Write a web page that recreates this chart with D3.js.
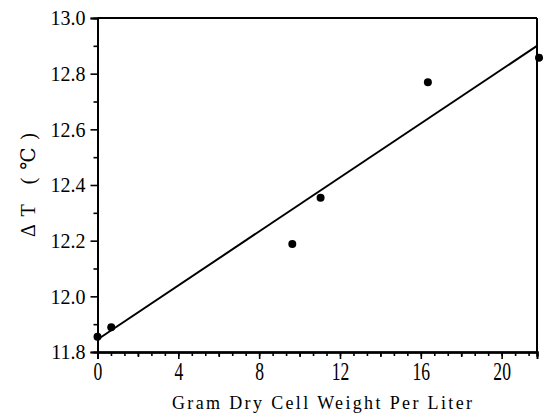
<!DOCTYPE html>
<html>
<head>
<meta charset="utf-8">
<script src="https://cdn.jsdelivr.net/npm/d3@7"></script>
<style>
  body { margin: 0; background: #fff; }
  text { font-family: "Liberation Serif", "DejaVu Serif", serif; fill: #000; }
</style>
</head>
<body>
<script>
// measured points (grams dry cell weight per liter vs delta T)
var cellWeight = [0, 0.68, 9.64, 11.04, 16.35, 21.85];
var deltaT = [11.855, 11.889, 12.188, 12.354, 12.769, 12.857];

// fitted straight line, two ends
var fitX = [0, 21.75];
var fitY = [11.845, 12.90];

var xTicks = [0, 4, 8, 12, 16, 20];
var yTicks = [11.8, 12.0, 12.2, 12.4, 12.6, 12.8, 13.0];

var width = 543, height = 414;
var plotLeft = 97.5, plotRight = 537, plotTop = 18, plotBottom = 352;

var svg = d3.select("body").append("svg")
    .attr("width", width)
    .attr("height", height);

var x = d3.scaleLinear().domain([0, 21.75]).range([plotLeft, plotRight]);
var y = d3.scaleLinear().domain([11.8, 13.0]).range([plotBottom, plotTop]);

// frame on top and right
svg.append("line")
    .attr("x1", plotLeft).attr("x2", plotRight)
    .attr("y1", plotTop).attr("y2", plotTop)
    .attr("stroke", "#000").attr("stroke-width", 2);
svg.append("line")
    .attr("x1", plotRight).attr("x2", plotRight)
    .attr("y1", plotTop).attr("y2", plotBottom)
    .attr("stroke", "#000").attr("stroke-width", 2);

// minor ticks first
var xMinor = d3.range(0, 21.7, 2 / 3);
svg.append("g")
    .attr("transform", "translate(0," + plotBottom + ")")
    .call(d3.axisBottom(x).tickValues(xMinor).tickSize(4).tickFormat(""));
svg.append("g")
    .attr("transform", "translate(0," + plotBottom + ")")
    .call(d3.axisBottom(x).tickValues([2, 6, 10, 14, 18]).tickSize(5).tickFormat(""));

var yMinor = d3.range(11.9, 13.0, 0.2);
svg.append("g")
    .attr("transform", "translate(" + plotLeft + ",0)")
    .call(d3.axisLeft(y).tickValues(yMinor).tickSize(4).tickFormat(""));

// x axis
var xAxis = svg.append("g")
    .attr("transform", "translate(0," + plotBottom + ")")
    .call(d3.axisBottom(x).tickValues(xTicks).tickSize(7).tickPadding(3)
      .tickFormat(function(d) { return d; }));
xAxis.selectAll("text")
    .style("font-size", "22px")
    .attr("transform", "scale(0.8,1.1)");

// y axis
var yAxis = svg.append("g")
    .attr("transform", "translate(" + plotLeft + ",0)")
    .call(d3.axisLeft(y).tickValues(yTicks).tickSize(7).tickPadding(5)
      .tickFormat(d3.format(".1f")));
yAxis.selectAll("text")
    .style("font-size", "20px")
    .attr("transform", "scale(1,1.05)");

svg.selectAll(".domain")
    .attr("stroke-width", 2);
svg.selectAll(".tick line")
    .attr("stroke-width", 1.6);

// fitted line
svg.append("line")
    .attr("x1", x(fitX[0])).attr("y1", y(fitY[0]))
    .attr("x2", x(fitX[1])).attr("y2", y(fitY[1]))
    .attr("stroke", "#000").attr("stroke-width", 2);

// dots
svg.selectAll(".dot")
    .data(cellWeight)
  .enter().append("circle")
    .attr("class", "dot")
    .attr("r", 4)
    .attr("cx", function(d) { return x(d); })
    .attr("cy", function(d, i) { return y(deltaT[i]); })
    .attr("fill", "#000");

// axis titles
svg.append("text")
    .attr("x", 322)
    .attr("y", 409)
    .attr("text-anchor", "middle")
    .attr("textLength", 300)
    .style("font-size", "18px")
    .text("Gram Dry Cell Weight Per Liter");

svg.append("text")
    .attr("transform", "translate(35,185) rotate(-90)")
    .attr("text-anchor", "middle")
    .attr("textLength", 104)
    .style("font-size", "20px")
    .text("ΔT (℃)");
</script>
</body>
</html>
